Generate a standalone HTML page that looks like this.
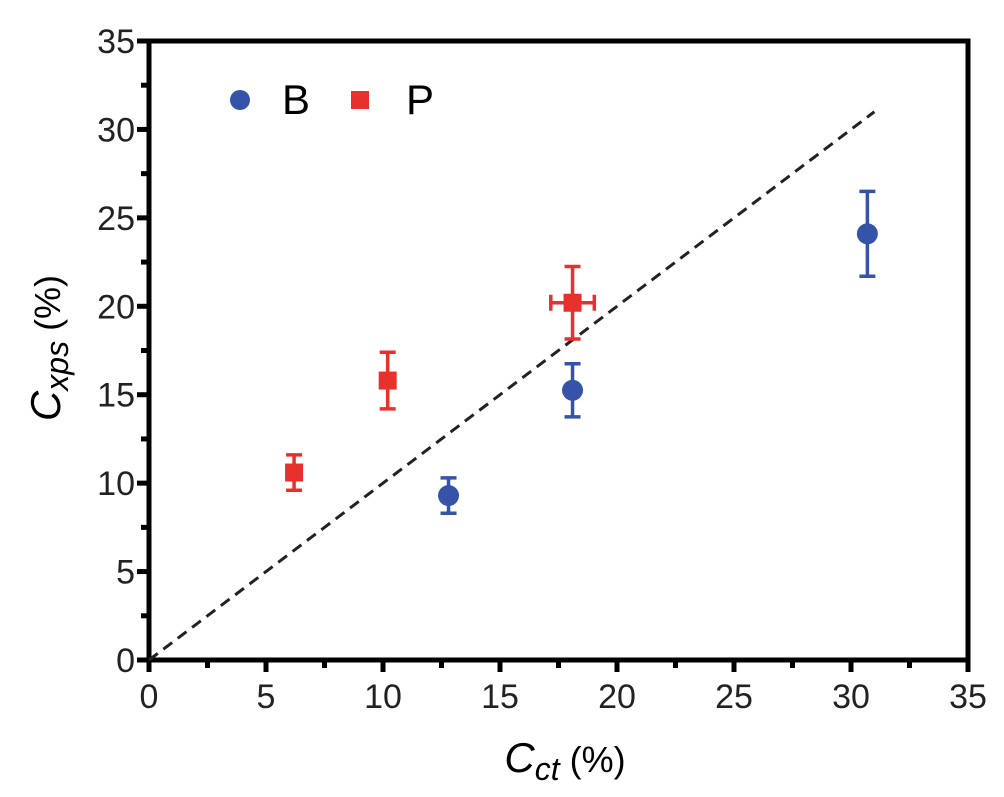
<!DOCTYPE html>
<html><head><meta charset="utf-8"><style>
html,body{margin:0;padding:0;background:#fff;}
svg{display:block;font-family:"Liberation Sans",Arial,sans-serif;}
</style></head><body>
<svg id="chart" width="1004" height="797" viewBox="0 0 1004 797">
<g id="axes"></g><g id="marks"></g>
<text x="565" y="772" font-size="36" text-anchor="middle"><tspan font-style="italic" font-size="42">C</tspan><tspan font-style="italic" dy="8" font-size="32">ct</tspan><tspan dy="-8"> (%)</tspan></text>
<text transform="translate(60,348) rotate(-90)" font-size="36" text-anchor="middle"><tspan font-style="italic" font-size="42">C</tspan><tspan font-style="italic" dy="8" font-size="32">xps</tspan><tspan dy="-8"> (%)</tspan></text>
<g>
<circle cx="240" cy="100" r="10" fill="#3553a8"/>
<text x="282" y="114" font-size="42">B</text>
<rect x="351" y="91" width="18" height="18" fill="#e8302d"/>
<text x="406" y="114" font-size="42">P</text>
</g>
</svg>
<script>
const xTicks=[0,5,10,15,20,25,30,35];
const yTicks=[0,5,10,15,20,25,30,35];
const bX=[12.8,18.1,30.7];
const bY=[9.3,15.25,24.1];
const bYErr=[1.0,1.5,2.4];
const pX=[6.2,10.2,18.1];
const pY=[10.6,15.8,20.2];
const pYErr=[1.0,1.6,2.05];
const pXErr=[0,0,0.93];
const refLine=[0,31];
const L=149,R=968,T=41,B=660;
const sx=v=>L+(v/35)*(R-L), sy=v=>B-(v/35)*(B-T);
const NS="http://www.w3.org/2000/svg";
function mk(tag,attrs,parent){const e=document.createElementNS(NS,tag);for(const k in attrs)e.setAttribute(k,attrs[k]);parent.appendChild(e);return e;}
const ax=document.getElementById('axes'), mg=document.getElementById('marks');
let e=mk('rect',{x:L,y:T,width:R-L,height:B-T,fill:'none',stroke:'#000','stroke-width':5},ax);


xTicks.forEach((t,i)=>{
 const x=sx(t);
 let l=mk('line',{x1:x,x2:x,y1:B,y2:B+12,stroke:'#000','stroke-width':5},ax);
 
 
 let tx=mk('text',{x:x,y:B+48,'font-size':34,'text-anchor':'middle',fill:'#222'},ax);tx.textContent=t;
 
 
 if(i<xTicks.length-1){const xm=sx(t+2.5);let m=mk('line',{x1:xm,x2:xm,y1:B,y2:B+8,stroke:'#000','stroke-width':5},ax);
 
 }
});
yTicks.forEach((t,i)=>{
 const y=sy(t);
 let l=mk('line',{x1:L-12,x2:L,y1:y,y2:y,stroke:'#000','stroke-width':5},ax);
 
 
 let tx=mk('text',{x:L-14,y:y+12,'font-size':34,'text-anchor':'end',fill:'#222'},ax);tx.textContent=t;
 
 
 if(i<yTicks.length-1){const ym=sy(t+2.5);let m=mk('line',{x1:L-8,x2:L,y1:ym,y2:ym,stroke:'#000','stroke-width':5},ax);
 
 }
});
let d=mk('line',{x1:sx(refLine[0]),y1:sy(refLine[0]),x2:sx(refLine[1]),y2:sy(refLine[1]),stroke:'#222','stroke-width':3,'stroke-dasharray':'11 7'},mg);


function err(x,y,ye,xe,col,name){
 const g=mk('g',{stroke:col,'stroke-width':3.5},mg);
 
 
 const cx=sx(x),t=sy(y+ye),b=sy(y-ye);
 mk('line',{x1:cx,x2:cx,y1:t,y2:b},g);mk('line',{x1:cx-8,x2:cx+8,y1:t,y2:t},g);mk('line',{x1:cx-8,x2:cx+8,y1:b,y2:b},g);
 if(xe>0){const l=sx(x-xe),r=sx(x+xe),cy=sy(y);mk('line',{x1:l,x2:r,y1:cy,y2:cy},g);mk('line',{x1:l,x2:l,y1:cy-8,y2:cy+8},g);mk('line',{x1:r,x2:r,y1:cy-8,y2:cy+8},g);}
}
bX.forEach((x,i)=>{
 err(x,bY[i],bYErr[i],0,'#3553a8','error-bar-b');
 let c=mk('circle',{cx:sx(x),cy:sy(bY[i]),r:10.5,fill:'#3553a8'},mg);
 
 
});
pX.forEach((x,i)=>{
 err(x,pY[i],pYErr[i],pXErr[i],'#e8302d','error-bar-p');
 let r=mk('rect',{x:sx(x)-9,y:sy(pY[i])-9,width:18,height:18,fill:'#e8302d'},mg);
 
 
});
</script>
</body></html>
